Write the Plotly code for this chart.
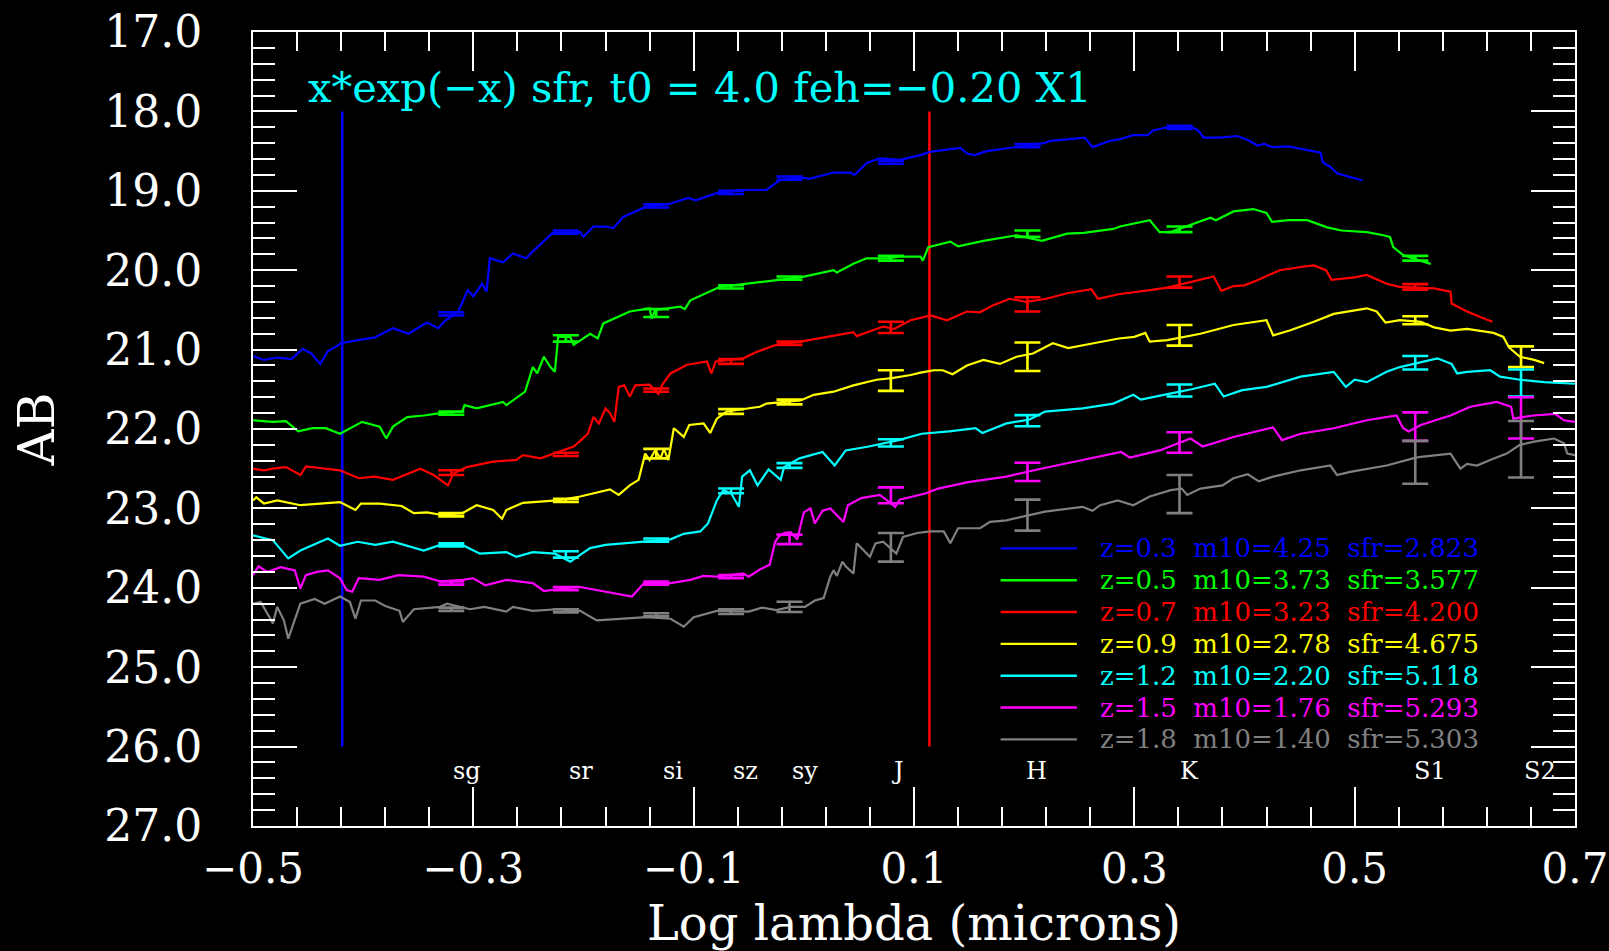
import plotly.graph_objects as go

# ---------------- data ----------------
# photometric band positions (log lambda, microns) where error bars are drawn
band_x = [-0.320, -0.216, -0.134, -0.066, -0.013, 0.079, 0.203, 0.341, 0.555, 0.651]
band_labels = ["sg", "sr", "si", "sz", "sy", "J", "H", "K", "S1", "S2"]
band_label_x = [-0.306, -0.202, -0.119, -0.053, 0.001, 0.085, 0.2115, 0.350, 0.5686, 0.668]
band_label_y = 26.31

x_tick_vals = [-0.5, -0.3, -0.1, 0.1, 0.3, 0.5, 0.7]

z_vals = ["0.3", "0.5", "0.7", "0.9", "1.2", "1.5", "1.8"]
m10_vals = ["4.25", "3.73", "3.23", "2.78", "2.20", "1.76", "1.40"]
sfr_vals = ["2.823", "3.577", "4.200", "4.675", "5.118", "5.293", "5.303"]
colors = ["#0000FF", "#00FF00", "#FF0000", "#FFFF00", "#00FFFF", "#FF00FF", "#808080"]

spec_z03 = [(-0.500, 21.08), (-0.490, 21.13), (-0.478, 21.10), (-0.465, 21.12), (-0.455, 20.99),
            (-0.447, 21.05), (-0.439, 21.18), (-0.432, 21.02), (-0.420, 20.92), (-0.405, 20.88),
            (-0.390, 20.85), (-0.373, 20.73), (-0.359, 20.80), (-0.342, 20.66), (-0.332, 20.73),
            (-0.325, 20.63), (-0.314, 20.53), (-0.305, 20.25), (-0.300, 20.33), (-0.292, 20.17),
            (-0.288, 20.27), (-0.285, 19.85), (-0.273, 19.90), (-0.264, 19.79), (-0.252, 19.85),
            (-0.245, 19.75), (-0.228, 19.53), (-0.210, 19.52), (-0.203, 19.52), (-0.200, 19.58),
            (-0.191, 19.45), (-0.180, 19.45), (-0.173, 19.47), (-0.164, 19.33), (-0.143, 19.20),
            (-0.121, 19.16), (-0.105, 19.09), (-0.098, 19.12), (-0.079, 19.03), (-0.058, 18.99),
            (-0.034, 18.99), (-0.022, 18.87), (-0.003, 18.83), (0.005, 18.85), (0.027, 18.77),
            (0.042, 18.77), (0.046, 18.80), (0.057, 18.65), (0.069, 18.59), (0.087, 18.61),
            (0.106, 18.55), (0.114, 18.51), (0.142, 18.46), (0.148, 18.53), (0.155, 18.55),
            (0.166, 18.50), (0.193, 18.45), (0.218, 18.40), (0.224, 18.37), (0.251, 18.33),
            (0.255, 18.33), (0.262, 18.45), (0.278, 18.37), (0.287, 18.35), (0.299, 18.30),
            (0.312, 18.30), (0.317, 18.24), (0.330, 18.20), (0.351, 18.19), (0.358, 18.24),
            (0.363, 18.33), (0.378, 18.33), (0.393, 18.31), (0.403, 18.36), (0.412, 18.43),
            (0.418, 18.41), (0.425, 18.45), (0.440, 18.44), (0.451, 18.47), (0.469, 18.52),
            (0.471, 18.64), (0.478, 18.70), (0.484, 18.78), (0.494, 18.82), (0.500, 18.84),
            (0.507, 18.87)]

spec_z05 = [(-0.500, 21.89), (-0.482, 21.91), (-0.470, 21.90), (-0.459, 22.03), (-0.446, 21.99),
            (-0.434, 21.99), (-0.421, 22.06), (-0.401, 21.91), (-0.385, 21.97), (-0.379, 22.12),
            (-0.373, 21.97), (-0.360, 21.85), (-0.345, 21.83), (-0.330, 21.80), (-0.310, 21.78),
            (-0.308, 21.70), (-0.297, 21.74), (-0.273, 21.66), (-0.270, 21.70), (-0.253, 21.53),
            (-0.246, 21.22), (-0.242, 21.30), (-0.236, 21.09), (-0.230, 21.22), (-0.226, 21.28),
            (-0.223, 20.84), (-0.212, 20.84), (-0.209, 20.94), (-0.194, 20.80), (-0.187, 20.86),
            (-0.182, 20.67), (-0.158, 20.52), (-0.140, 20.48), (-0.138, 20.61), (-0.135, 20.50),
            (-0.112, 20.46), (-0.108, 20.49), (-0.103, 20.38), (-0.076, 20.21), (-0.040, 20.15),
            (-0.003, 20.09), (0.027, 20.00), (0.030, 20.03), (0.045, 19.92), (0.057, 19.85),
            (0.075, 19.85), (0.087, 19.83), (0.106, 19.83), (0.108, 19.88), (0.113, 19.71),
            (0.133, 19.64), (0.140, 19.70), (0.163, 19.63), (0.193, 19.56), (0.216, 19.63),
            (0.239, 19.54), (0.254, 19.53), (0.281, 19.48), (0.287, 19.45), (0.314, 19.37),
            (0.323, 19.52), (0.333, 19.52), (0.351, 19.43), (0.369, 19.34), (0.374, 19.37),
            (0.390, 19.26), (0.408, 19.23), (0.420, 19.28), (0.425, 19.39), (0.440, 19.37),
            (0.457, 19.37), (0.475, 19.46), (0.488, 19.50), (0.511, 19.52), (0.526, 19.56),
            (0.532, 19.58), (0.535, 19.71), (0.544, 19.81), (0.557, 19.87), (0.569, 19.92)]

spec_z07 = [(-0.500, 22.50), (-0.490, 22.52), (-0.482, 22.50), (-0.470, 22.48), (-0.457, 22.58),
            (-0.452, 22.47), (-0.421, 22.52), (-0.404, 22.62), (-0.390, 22.60), (-0.373, 22.64),
            (-0.348, 22.50), (-0.336, 22.58), (-0.323, 22.71), (-0.318, 22.56), (-0.306, 22.48),
            (-0.282, 22.41), (-0.261, 22.39), (-0.255, 22.33), (-0.239, 22.37), (-0.218, 22.27),
            (-0.209, 22.22), (-0.203, 22.15), (-0.196, 22.06), (-0.191, 21.85), (-0.186, 21.93),
            (-0.180, 21.74), (-0.176, 21.80), (-0.172, 21.91), (-0.168, 21.47), (-0.163, 21.45),
            (-0.158, 21.59), (-0.153, 21.45), (-0.140, 21.44), (-0.132, 21.56), (-0.128, 21.43),
            (-0.121, 21.30), (-0.106, 21.19), (-0.088, 21.15), (-0.084, 21.30), (-0.080, 21.15),
            (-0.055, 21.11), (-0.043, 21.03), (-0.025, 20.94), (-0.003, 20.90), (0.021, 20.84),
            (0.045, 20.78), (0.048, 20.83), (0.072, 20.71), (0.082, 20.74), (0.097, 20.63),
            (0.115, 20.57), (0.130, 20.63), (0.148, 20.52), (0.160, 20.53), (0.172, 20.44),
            (0.187, 20.36), (0.202, 20.40), (0.220, 20.36), (0.239, 20.29), (0.261, 20.24),
            (0.267, 20.36), (0.287, 20.30), (0.314, 20.25), (0.330, 20.22), (0.372, 20.08),
            (0.379, 20.26), (0.390, 20.20), (0.400, 20.19), (0.411, 20.13), (0.432, 20.00),
            (0.451, 19.96), (0.463, 19.94), (0.474, 20.00), (0.479, 20.12), (0.500, 20.09),
            (0.511, 20.06), (0.529, 20.17), (0.541, 20.21), (0.572, 20.23), (0.587, 20.27),
            (0.588, 20.42), (0.595, 20.47), (0.602, 20.52), (0.614, 20.59), (0.625, 20.65)]

spec_z09 = [(-0.500, 22.90), (-0.497, 22.86), (-0.490, 22.94), (-0.478, 22.90), (-0.457, 22.96),
            (-0.440, 22.94), (-0.421, 22.92), (-0.407, 23.02), (-0.402, 22.94), (-0.385, 22.94),
            (-0.365, 22.97), (-0.354, 23.06), (-0.342, 23.05), (-0.330, 23.08), (-0.310, 23.06),
            (-0.297, 22.96), (-0.282, 23.02), (-0.274, 23.13), (-0.270, 23.02), (-0.255, 22.93),
            (-0.224, 22.90), (-0.203, 22.85), (-0.191, 22.81), (-0.176, 22.76), (-0.168, 22.83),
            (-0.158, 22.71), (-0.150, 22.64), (-0.144, 22.31), (-0.140, 22.39), (-0.135, 22.27),
            (-0.130, 22.37), (-0.127, 22.25), (-0.123, 22.39), (-0.118, 21.99), (-0.109, 22.10),
            (-0.104, 21.95), (-0.091, 21.93), (-0.085, 22.05), (-0.079, 21.87), (-0.070, 21.78),
            (-0.040, 21.72), (-0.034, 21.68), (-0.003, 21.64), (0.009, 21.57), (0.027, 21.53),
            (0.045, 21.45), (0.066, 21.38), (0.080, 21.36), (0.097, 21.32), (0.106, 21.29),
            (0.118, 21.26), (0.126, 21.26), (0.135, 21.31), (0.148, 21.20), (0.163, 21.13),
            (0.178, 21.18), (0.193, 21.09), (0.208, 21.05), (0.226, 20.92), (0.240, 20.98),
            (0.263, 20.92), (0.286, 20.86), (0.300, 20.84), (0.310, 20.79), (0.314, 20.90),
            (0.330, 20.88), (0.360, 20.80), (0.390, 20.69), (0.420, 20.63), (0.426, 20.82),
            (0.441, 20.76), (0.463, 20.65), (0.481, 20.55), (0.511, 20.48), (0.520, 20.52),
            (0.528, 20.66), (0.541, 20.63), (0.560, 20.65), (0.572, 20.72), (0.587, 20.76),
            (0.602, 20.74), (0.626, 20.79), (0.635, 20.84), (0.640, 20.97), (0.650, 21.09),
            (0.663, 21.13), (0.672, 21.17)]

spec_z12 = [(-0.500, 23.34), (-0.482, 23.40), (-0.468, 23.63), (-0.457, 23.53), (-0.442, 23.44),
            (-0.432, 23.38), (-0.421, 23.47), (-0.405, 23.42), (-0.389, 23.46), (-0.373, 23.42),
            (-0.345, 23.53), (-0.330, 23.46), (-0.310, 23.46), (-0.294, 23.57), (-0.270, 23.55),
            (-0.261, 23.61), (-0.246, 23.55), (-0.226, 23.57), (-0.212, 23.67), (-0.194, 23.50),
            (-0.180, 23.46), (-0.146, 23.42), (-0.121, 23.39), (-0.109, 23.32), (-0.094, 23.29),
            (-0.087, 23.19), (-0.079, 22.90), (-0.073, 22.77), (-0.066, 22.81), (-0.059, 22.98),
            (-0.057, 22.77), (-0.056, 22.60), (-0.049, 22.52), (-0.042, 22.71), (-0.032, 22.51),
            (-0.021, 22.64), (-0.018, 22.48), (-0.004, 22.37), (0.017, 22.29), (0.028, 22.46),
            (0.038, 22.27), (0.059, 22.22), (0.086, 22.14), (0.107, 22.06), (0.132, 22.03),
            (0.156, 21.99), (0.162, 22.05), (0.184, 21.93), (0.205, 21.88), (0.219, 21.78),
            (0.253, 21.74), (0.281, 21.68), (0.299, 21.57), (0.306, 21.63), (0.330, 21.56),
            (0.352, 21.50), (0.373, 21.43), (0.381, 21.59), (0.398, 21.51), (0.420, 21.47),
            (0.451, 21.34), (0.481, 21.28), (0.492, 21.47), (0.500, 21.38), (0.511, 21.41),
            (0.529, 21.28), (0.541, 21.22), (0.575, 21.11), (0.588, 21.18), (0.593, 21.30),
            (0.602, 21.28), (0.623, 21.26), (0.632, 21.34), (0.650, 21.38), (0.672, 21.41),
            (0.700, 21.43)]

spec_z15 = [(-0.500, 23.84), (-0.495, 23.73), (-0.487, 23.80), (-0.475, 23.74), (-0.462, 23.78),
            (-0.457, 24.01), (-0.452, 23.84), (-0.442, 23.80), (-0.432, 23.78), (-0.421, 23.88),
            (-0.415, 24.03), (-0.410, 24.05), (-0.404, 23.88), (-0.385, 23.90), (-0.368, 23.84),
            (-0.345, 23.86), (-0.330, 23.92), (-0.310, 23.90), (-0.300, 23.88), (-0.289, 23.97),
            (-0.270, 23.90), (-0.246, 23.94), (-0.236, 24.04), (-0.220, 24.01), (-0.203, 23.99),
            (-0.179, 24.05), (-0.156, 24.11), (-0.145, 23.94), (-0.121, 23.94), (-0.103, 23.90),
            (-0.091, 23.85), (-0.079, 23.86), (-0.055, 23.82), (-0.050, 23.86), (-0.040, 23.77),
            (-0.031, 23.71), (-0.026, 23.42), (-0.023, 23.36), (-0.018, 23.31), (-0.012, 23.30),
            (-0.006, 23.39), (0.000, 23.05), (0.006, 23.00), (0.010, 23.19), (0.017, 23.03),
            (0.024, 23.00), (0.036, 23.17), (0.040, 22.96), (0.052, 22.87), (0.069, 22.83),
            (0.083, 22.98), (0.087, 22.89), (0.111, 22.81), (0.122, 22.75), (0.149, 22.67),
            (0.184, 22.60), (0.212, 22.51), (0.253, 22.39), (0.288, 22.29), (0.296, 22.36),
            (0.323, 22.27), (0.351, 22.12), (0.362, 22.22), (0.390, 22.10), (0.426, 21.98),
            (0.434, 22.14), (0.451, 22.06), (0.481, 21.99), (0.511, 21.89), (0.538, 21.83),
            (0.544, 21.99), (0.549, 22.03), (0.560, 21.95), (0.587, 21.83), (0.605, 21.72),
            (0.629, 21.66), (0.642, 21.72), (0.644, 21.87), (0.662, 21.83), (0.682, 21.81),
            (0.690, 21.89), (0.700, 21.91)]

spec_z18 = [(-0.500, 24.20), (-0.493, 24.18), (-0.485, 24.37), (-0.482, 24.45), (-0.478, 24.24),
            (-0.472, 24.41), (-0.468, 24.64), (-0.462, 24.41), (-0.457, 24.20), (-0.444, 24.14),
            (-0.435, 24.20), (-0.421, 24.11), (-0.412, 24.18), (-0.407, 24.39), (-0.402, 24.16),
            (-0.389, 24.16), (-0.380, 24.23), (-0.367, 24.29), (-0.364, 24.43), (-0.354, 24.27),
            (-0.330, 24.24), (-0.324, 24.20), (-0.303, 24.27), (-0.290, 24.24), (-0.270, 24.30),
            (-0.264, 24.24), (-0.246, 24.29), (-0.224, 24.27), (-0.203, 24.29), (-0.188, 24.41),
            (-0.160, 24.39), (-0.143, 24.37), (-0.121, 24.39), (-0.109, 24.49), (-0.100, 24.37),
            (-0.079, 24.29), (-0.050, 24.30), (-0.038, 24.25), (-0.025, 24.28), (-0.012, 24.24),
            (0.001, 24.24), (0.010, 24.16), (0.018, 24.13), (0.024, 23.86), (0.027, 23.78),
            (0.030, 23.85), (0.035, 23.67), (0.038, 23.73), (0.045, 23.82), (0.048, 23.44),
            (0.060, 23.61), (0.065, 23.44), (0.072, 23.42), (0.084, 23.57), (0.090, 23.36),
            (0.103, 23.31), (0.115, 23.29), (0.127, 23.29), (0.133, 23.44), (0.140, 23.25),
            (0.160, 23.25), (0.169, 23.17), (0.184, 23.15), (0.205, 23.08), (0.219, 23.04),
            (0.253, 22.98), (0.262, 23.03), (0.269, 22.96), (0.285, 22.90), (0.299, 22.96),
            (0.314, 22.85), (0.333, 22.77), (0.343, 22.75), (0.348, 22.83), (0.360, 22.75),
            (0.380, 22.71), (0.390, 22.62), (0.403, 22.57), (0.413, 22.66), (0.426, 22.60),
            (0.451, 22.52), (0.478, 22.46), (0.484, 22.58), (0.496, 22.54), (0.511, 22.50),
            (0.529, 22.46), (0.553, 22.37), (0.560, 22.35), (0.587, 22.31), (0.596, 22.50),
            (0.602, 22.44), (0.611, 22.46), (0.623, 22.39), (0.638, 22.31), (0.650, 22.20),
            (0.663, 22.16), (0.681, 22.12), (0.690, 22.18), (0.693, 22.31), (0.700, 22.33)]

# photometry at the bands (magnitude, +/- error); bands used from the start of band_x
phot_z03_mag = [20.55, 19.52, 19.19, 19.02, 18.84, 18.64, 18.43, 18.20]
phot_z03_err = [0.02, 0.02, 0.02, 0.02, 0.02, 0.02, 0.02, 0.02]
phot_z05_mag = [21.80, 20.86, 20.54, 20.21, 20.10, 19.85, 19.54, 19.485, 19.85]
phot_z05_err = [0.02, 0.04, 0.05, 0.02, 0.02, 0.03, 0.04, 0.035, 0.03]
phot_z07_mag = [22.55, 22.32, 21.51, 21.15, 20.92, 20.72, 20.43, 20.15, 20.21]
phot_z07_err = [0.03, 0.02, 0.02, 0.03, 0.02, 0.07, 0.09, 0.07, 0.035]
phot_z09_mag = [23.08, 22.90, 22.31, 21.78, 21.66, 21.39, 21.09, 20.82, 20.63, 21.09]
phot_z09_err = [0.02, 0.02, 0.06, 0.03, 0.03, 0.13, 0.18, 0.13, 0.05, 0.13]
phot_z12_mag = [23.46, 23.58, 23.40, 22.78, 22.46, 22.175, 21.895, 21.515, 21.165, 21.42]
phot_z12_err = [0.02, 0.04, 0.02, 0.03, 0.03, 0.045, 0.07, 0.075, 0.085, 0.17]
phot_z15_mag = [23.94, 24.01, 23.94, 23.86, 23.39, 22.835, 22.54, 22.17, 21.97, 21.86]
phot_z15_err = [0.02, 0.02, 0.02, 0.02, 0.06, 0.10, 0.115, 0.13, 0.18, 0.26]
phot_z18_mag = [24.27, 24.29, 24.34, 24.30, 24.24, 23.49, 23.085, 22.82, 22.42, 22.255]
phot_z18_err = [0.02, 0.02, 0.02, 0.03, 0.065, 0.18, 0.195, 0.24, 0.27, 0.355]

# reference wavelength markers
marker_lines_x = [-0.419, 0.114]
marker_lines_color = ["#0000FF", "#FF0000"]
marker_lines_y = [18.0, 26.0]

title_text = "x*exp(\u2212x) sfr, t0 = 4.0 feh=\u22120.20 X1"
title_pos = (-0.452, 17.70)

spectra = [spec_z03, spec_z05, spec_z07, spec_z09, spec_z12, spec_z15, spec_z18]
phot_mag = [phot_z03_mag, phot_z05_mag, phot_z07_mag, phot_z09_mag, phot_z12_mag, phot_z15_mag, phot_z18_mag]
phot_err = [phot_z03_err, phot_z05_err, phot_z07_err, phot_z09_err, phot_z12_err, phot_z15_err, phot_z18_err]

SERIF = "DejaVu Serif"

fig = go.Figure()

for xv, col in zip(marker_lines_x, marker_lines_color):
    fig.add_trace(go.Scatter(x=[xv, xv], y=marker_lines_y, mode="lines",
                             line=dict(color=col, width=2.6), showlegend=False, hoverinfo="skip"))

for spec, col, z in zip(spectra, colors, z_vals):
    fig.add_trace(go.Scatter(x=[p[0] for p in spec], y=[p[1] for p in spec], mode="lines",
                             line=dict(color=col, width=2.2), name="z=" + z, showlegend=False))

for mags, errs, col in zip(phot_mag, phot_err, colors):
    fig.add_trace(go.Scatter(x=band_x[:len(mags)], y=mags, mode="markers",
                             marker=dict(color=col, size=2),
                             error_y=dict(type="data", array=errs, visible=True, color=col,
                                          thickness=2.6, width=13),
                             showlegend=False, hoverinfo="skip"))

annotations = []
annotations.append(dict(x=title_pos[0], y=title_pos[1], xref="x", yref="y", text=title_text,
                        showarrow=False, xanchor="left", yanchor="middle",
                        font=dict(family=SERIF, size=41.6, color="#00FFFF")))
for lab, lx in zip(band_labels, band_label_x):
    annotations.append(dict(x=lx, y=band_label_y, xref="x", yref="y", text=lab, showarrow=False,
                            xanchor="center", yanchor="middle",
                            font=dict(family=SERIF, size=24, color="white")))

# hand-drawn key (line sample + coloured text), as in the original
shapes = []
key_x0, key_x1, key_tx = 0.5655, 0.6232, 0.6395
key_y0, key_dy = 0.3497, 0.0401
nb = "\u00a0"
for i, (z, m, s, col) in enumerate(zip(z_vals, m10_vals, sfr_vals, colors)):
    yy = key_y0 - i * key_dy
    shapes.append(dict(type="line", xref="paper", yref="paper", x0=key_x0, x1=key_x1, y0=yy, y1=yy,
                       line=dict(color=col, width=2.4)))
    txt = f"z={z}{nb}{nb}m10={m}{nb}{nb}sfr={s}"
    annotations.append(dict(x=key_tx, y=yy, xref="paper", yref="paper", text=txt, showarrow=False,
                            xanchor="left", yanchor="middle",
                            font=dict(family=SERIF, size=26, color=col)))

axis_common = dict(ticks="inside", tickwidth=2, tickcolor="white", showline=True, linewidth=2,
                   linecolor="white", mirror="ticks", showgrid=False, zeroline=False,
                   automargin=False)

fig.update_xaxes(range=[-0.5, 0.7], tickmode="array", tickvals=x_tick_vals, tickformat=".1f",
                 ticklen=39, ticklabelstandoff=5, ticklabeloverflow="allow",
                 minor=dict(ticks="inside", tickmode="linear", tick0=-0.5, dtick=0.04, ticklen=19,
                            tickwidth=2, tickcolor="white", showgrid=False),
                 tickfont=dict(family=SERIF, size=42, color="white"),
                 title=dict(text="Log lambda (microns)", standoff=16,
                            font=dict(family=SERIF, size=48, color="white")),
                 **axis_common)
fig.update_yaxes(range=[27, 17], tickmode="linear", tick0=17, dtick=1, tickformat=".1f",
                 ticklen=44, ticklabelstandoff=40,
                 minor=dict(ticks="inside", tick0=17, dtick=0.2, ticklen=22, tickwidth=2,
                            tickcolor="white", showgrid=False),
                 tickfont=dict(family=SERIF, size=44, color="white"),
                 title=dict(text="AB", standoff=34, font=dict(family=SERIF, size=50, color="white")),
                 **axis_common)

fig.update_layout(width=1609, height=951, autosize=False,
                  margin=dict(l=253, r=34, t=32, b=125, pad=0),
                  paper_bgcolor="black", plot_bgcolor="black",
                  annotations=annotations, shapes=shapes, showlegend=False)

fig.write_html("out.html", config={"displayModeBar": False},
               post_script="document.body.style.margin='0';document.body.style.overflow='hidden';")
